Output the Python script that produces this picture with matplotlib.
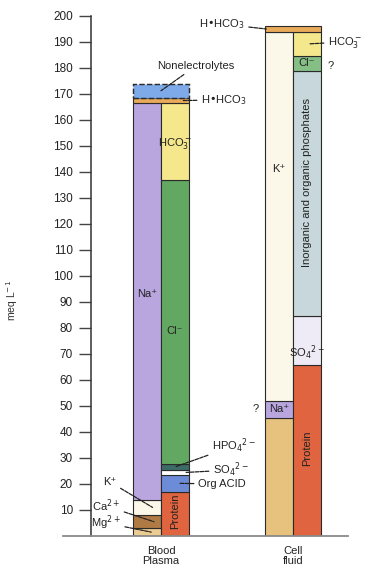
import matplotlib
matplotlib.use("Agg")
import matplotlib.pyplot as plt
import numpy as np

plt.rcParams['font.family'] = ['Liberation Sans', 'DejaVu Sans']

# ---------------- data ----------------
compartments = ["Blood\nPlasma", "Cell\nfluid"]

plasma_cation_names = ["Mg²⁺", "Ca²⁺", "K⁺", "Na⁺"]
plasma_cation_vals = [3, 5, 6, 152.5]
plasma_anion_names = ["Protein", "Org ACID", "SO₄²⁻", "HPO₄²⁻", "Cl⁻", "HCO₃⁻"]
plasma_anion_vals = [17, 6.5, 1.9, 2.3, 109.3, 29.5]
plasma_shared_names = ["H•HCO₃", "Nonelectrolytes"]
plasma_shared_vals = [2, 5.5]

cell_cation_names = ["Mg²⁺", "Na⁺", "K⁺"]
cell_cation_vals = [45.4, 6.6, 142]
cell_anion_names = ["Protein", "SO₄²⁻", "Inorganic and organic phosphates", "Cl⁻", "HCO₃⁻"]
cell_anion_vals = [65.8, 18.8, 94.4, 5.6, 9.4]
cell_shared_names = ["H•HCO₃"]
cell_shared_vals = [2]

yticks = list(range(10, 201, 10))

colors = {
    "Na⁺": "#b9a6df", "K⁺": "#fbf8e9", "Ca²⁺": "#b07a44", "Mg²⁺": "#edcc92",
    "Cl⁻": "#63a862", "HCO₃⁻": "#f5e78c", "Protein": "#e0643f",
    "Org ACID": "#6d8cd8", "SO₄²⁻": "#ffffff", "HPO₄²⁻": "#3d6b68",
    "H•HCO₃": "#e9aa5a", "Nonelectrolytes": "#7eaaea",
    "Inorganic and organic phosphates": "#c7d7dc",
}
cell_colors = dict(colors)
cell_colors["Mg²⁺"] = "#e6c27e"
cell_colors["SO₄²⁻"] = "#eeeaf6"
cell_colors["Cl⁻"] = "#86bf86"

W, H = 365, 569
fig = plt.figure(figsize=(W / 100, H / 100), dpi=100)
ax = fig.add_axes([91 / W, (H - 536) / H, (348 - 91) / W, (536 - 16) / H])
ax.set_xlim(-0.53, 1.417)
ax.set_ylim(0, 200)

w = 0.212
EC = "#2a2a2a"
LW = 0.8

def stack(x, names, vals, cmap, width, align_left, bottom0=0.0):
    b = bottom0
    out = {}
    for n, v in zip(names, vals):
        left = x if align_left else x - width
        ax.bar(left, v, width=width, bottom=b, align="edge", color=cmap[n],
               edgecolor=EC, linewidth=LW, zorder=2)
        out[n] = (b, b + v)
        b += v
    return out, b

# plasma
pc, ptop_c = stack(0, plasma_cation_names, plasma_cation_vals, colors, w, False)
pa, ptop_a = stack(0, plasma_anion_names, plasma_anion_vals, colors, w, True)
b = max(ptop_c, ptop_a)
psh = {}
for n, v in zip(plasma_shared_names, plasma_shared_vals):
    ls = "--" if n == "Nonelectrolytes" else "-"
    ax.bar(-w, v, width=2 * w, bottom=b, align="edge", color=colors[n],
           edgecolor=EC, linewidth=LW * (1.3 if ls == "--" else 1), linestyle=ls, zorder=2)
    psh[n] = (b, b + v)
    b += v

# cell
cc, ctop_c = stack(1, cell_cation_names, cell_cation_vals, cell_colors, w, False)
ca, ctop_a = stack(1, cell_anion_names, cell_anion_vals, cell_colors, w, True)
b = max(ctop_c, ctop_a)
csh = {}
for n, v in zip(cell_shared_names, cell_shared_vals):
    ax.bar(1 - w, v, width=2 * w, bottom=b, align="edge", color=cell_colors[n],
           edgecolor=EC, linewidth=LW, zorder=2)
    csh[n] = (b, b + v)
    b += v

# axes styling
for s in ["top", "right", "bottom"]:
    ax.spines[s].set_visible(False)
ax.spines["left"].set_linewidth(1.1)
ax.spines["left"].set_color("#333333")
ax.set_yticks(yticks)
ax.set_yticklabels([str(t) for t in yticks])
ax.tick_params(axis="y", length=9, width=1.0, pad=4, labelsize=8.5, color="#444444",
               labelcolor="#222222")
ax.set_xticks([])
ax.axhline(0, xmin=-0.109, xmax=1.0, color="#8a8a8a", lw=1.3, clip_on=False, zorder=3)
fig.text(12 / W, 1 - 300 / H, "meq L$^{-1}$", rotation=90, ha="center", va="center",
         fontsize=7.5, color="#333333")

def mid(seg):
    return (seg[0] + seg[1]) / 2

fs = 8
tc = "#222222"
# labels inside bars
ax.text(-w / 2, 93, "Na⁺", ha="center", va="center", fontsize=fs, color=tc)
ax.text(w / 2, 79, "Cl⁻", ha="center", va="center", fontsize=fs, color=tc)
ax.text(w / 2, 151, "HCO$_3^-$", ha="center", va="center", fontsize=fs, color=tc)
ax.text(w / 2, mid(pa["Protein"]) + 1, "Protein", ha="center", va="center", rotation=90,
        fontsize=fs, color=tc)
ax.text(1 - w / 2, 141, "K⁺", ha="center", va="center", fontsize=fs, color=tc)
ax.text(1 - w / 2, mid(cc["Na⁺"]), "Na⁺", ha="center", va="center", fontsize=fs, color=tc)
ax.text(1 + w / 2, mid(ca["Protein"]) + 1, "Protein", ha="center", va="center", rotation=90,
        fontsize=fs, color=tc)
ax.text(1 + w / 2, mid(ca["Inorganic and organic phosphates"]) + 4,
        "Inorganic and organic phosphates", ha="center", va="center", rotation=90,
        fontsize=fs, color=tc)
ax.text(1 + w / 2, ca["SO₄²⁻"][0] + 1, "SO$_4$$^{2-}$", ha="center", va="bottom", fontsize=fs, color=tc)
ax.text(1 + w / 2, mid(ca["Cl⁻"]), "Cl⁻", ha="center", va="center", fontsize=fs, color=tc)

# annotations
def ann(txt, xy, xytext_px, ha="left"):
    ax.annotate(txt, xy=xy, xycoords="data",
                xytext=(xytext_px[0] / W, 1 - xytext_px[1] / H), textcoords="figure fraction",
                ha=ha, va="center", fontsize=fs, color=tc,
                arrowprops=dict(arrowstyle="-", color="#222222", lw=0.9,
                                shrinkA=1, shrinkB=0, linestyle=(0, (3, 1))))

ann("Nonelectrolytes", (0, mid(psh["Nonelectrolytes"])), (196, 66), ha="center")
ann("H•HCO$_3$", (w * 0.8, mid(psh["H•HCO₃"])), (201, 100))
ann("K⁺", (-w * 0.3, mid(pc["K⁺"])), (110, 482), ha="center")
ann("Ca$^{2+}$", (-w * 0.25, mid(pc["Ca²⁺"])), (106, 506), ha="center")
ann("Mg$^{2+}$", (-w * 0.35, mid(pc["Mg²⁺"])), (106, 523), ha="center")
ann("HPO$_4$$^{2-}$", (w * 0.5, mid(pa["HPO₄²⁻"])), (212, 446))
ann("SO$_4$$^{2-}$", (w * 0.9, mid(pa["SO₄²⁻"])), (213, 470))
ann("Org ACID", (w * 0.65, mid(pa["Org ACID"])), (198, 484))
ann("H•HCO$_3$", (1 - w * 0.95, mid(csh["H•HCO₃"])), (199, 24))
ann("HCO$_3^-$", (1 + w * 0.6, mid(ca["HCO₃⁻"])), (328, 42))
fig.text(331 / W, 1 - 66 / H, "?", ha="center", va="center", fontsize=fs, color=tc)
fig.text(256 / W, 1 - 409 / H, "?", ha="center", va="center", fontsize=fs, color=tc)

# category labels
for i, c in enumerate(compartments):
    ax.text(i, -4, c, ha="center", va="top", fontsize=fs, color=tc, linespacing=1.0)

fig.savefig("out.png", dpi=100)
